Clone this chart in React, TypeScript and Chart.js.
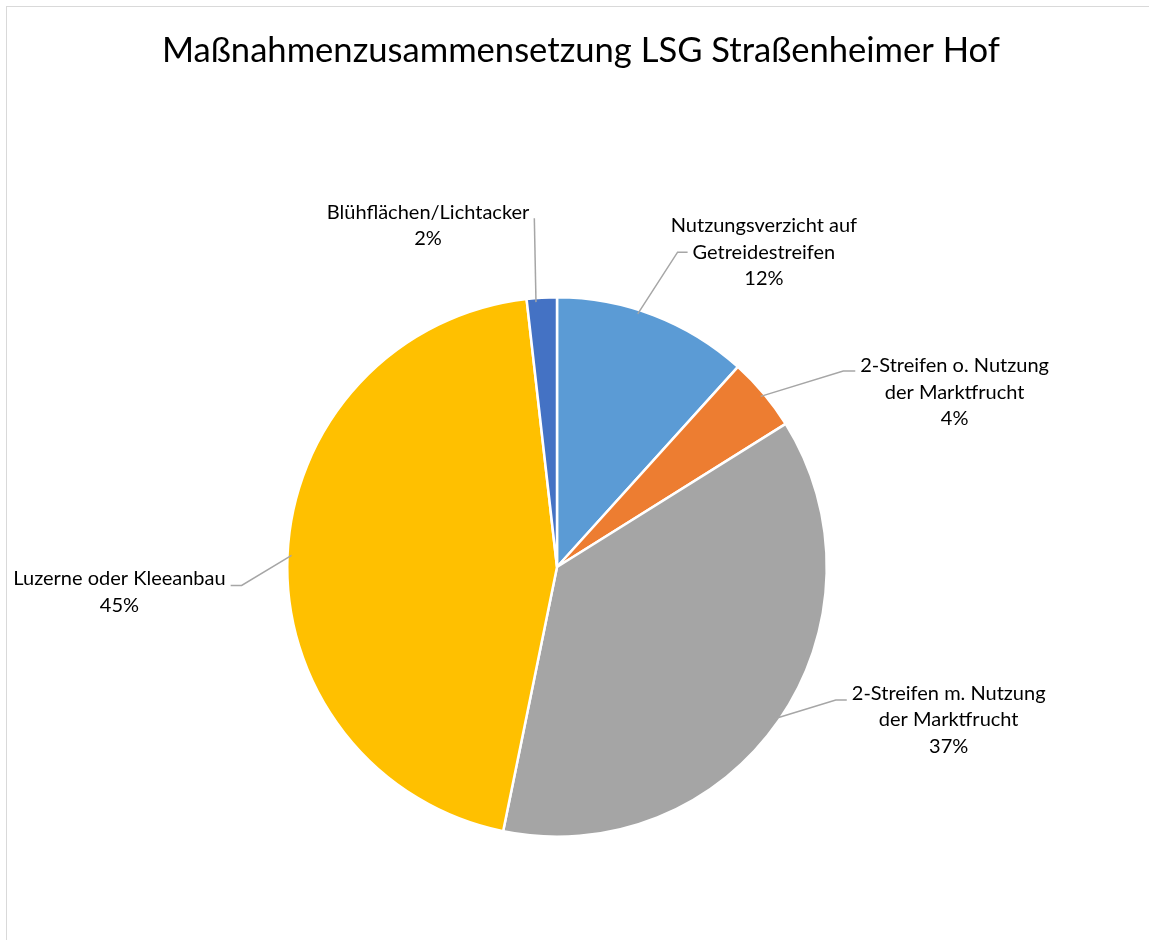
import React, { useEffect, useRef } from "react";
import { Chart, registerables } from "chart.js";

Chart.register(...registerables);

// ---------- data ----------
const chartTitle = "Maßnahmenzusammensetzung LSG Straßenheimer Hof";
const categories = [
  "Nutzungsverzicht auf Getreidestreifen",
  "2-Streifen o. Nutzung der Marktfrucht",
  "2-Streifen m. Nutzung der Marktfrucht",
  "Luzerne oder Kleeanbau",
  "Blühflächen/Lichtacker",
];
const labelLines = [
  ["Nutzungsverzicht auf", "Getreidestreifen"],
  ["2-Streifen o. Nutzung", "der Marktfrucht"],
  ["2-Streifen m. Nutzung", "der Marktfrucht"],
  ["Luzerne oder Kleeanbau"],
  ["Blühflächen/Lichtacker"],
];
const shares = [11.7, 4.4, 37.1, 45.0, 1.8];
const sliceColors = ["#5B9BD5", "#ED7D31", "#A5A5A5", "#FFC000", "#4472C4"];

// ---------- label layout (relative to pie centre, in radius units) ----------
const labelLayout = [
  { dx: 0.767, dy: -1.167, side: "left", line: 1.0, tail: 10, anchor: 0.42 },
  { dx: 1.474, dy: -0.648, side: "left", line: 0.2, tail: 12, anchor: 0.5 },
  { dx: 1.452, dy: 0.567, side: "left", line: 0.25, tail: 11, anchor: 0.5 },
  { dx: -1.622, dy: 0.093, side: "right", line: 0.25, tail: 11, anchor: 0.5 },
  { dx: -0.478, dy: -1.265, side: "right", line: 0.22, tail: 0, anchor: 0.3 },
];

const FONT = "Lato, 'Open Sans', sans-serif";
const LABEL_SIZE = 20;
const LINE_H = 26.5;

const titlePlugin = {
  id: "customTitle",
  afterDraw(chart: any) {
    const ctx = chart.ctx;
    ctx.save();
    ctx.font = `34.6px ${FONT}`;
    ctx.fillStyle = "#000000";
    ctx.textAlign = "center";
    ctx.textBaseline = "middle";
    ctx.fillText(chartTitle, 581, 51);
    ctx.restore();
  },
};

const labelPlugin = {
  id: "pieLabels",
  afterDatasetsDraw(chart: any) {
    const ctx = chart.ctx;
    const meta = chart.getDatasetMeta(0);
    const data = chart.data.datasets[0].data as number[];
    const total = data.reduce((a, b) => a + b, 0);
    ctx.save();
    ctx.font = `${LABEL_SIZE}px ${FONT}`;
    meta.data.forEach((arc: any, i: number) => {
      const p = arc.getProps(["x", "y", "outerRadius", "startAngle", "endAngle"], true);
      const lay = labelLayout[i];
      const ang = p.startAngle + (p.endAngle - p.startAngle) * lay.anchor;
      const ax = p.x + Math.cos(ang) * p.outerRadius * 0.985;
      const ay = p.y + Math.sin(ang) * p.outerRadius * 0.985;
      const pct = Math.round((data[i] / total) * 100) + "%";
      const lines = [...labelLines[i], pct];
      const cx = p.x + lay.dx * p.outerRadius;
      const cy = p.y + lay.dy * p.outerRadius;
      const top = cy - ((lines.length - 1) * LINE_H) / 2;

      // leader line
      const li = Math.floor(lay.line);
      const w = ctx.measureText(lines[li]).width;
      const ly = top + lay.line * LINE_H;
      const ex = lay.side === "left" ? cx - w / 2 - 5 : cx + w / 2 + 5;
      const bx = lay.side === "left" ? ex - lay.tail : ex + lay.tail;
      ctx.strokeStyle = "#A6A6A6";
      ctx.lineWidth = 1.5;
      ctx.beginPath();
      ctx.moveTo(ax, ay);
      ctx.lineTo(bx, ly);
      ctx.lineTo(ex, ly);
      ctx.stroke();

      ctx.fillStyle = "#000000";
      ctx.textAlign = "center";
      ctx.textBaseline = "middle";
      lines.forEach((t, k) => ctx.fillText(t, cx, top + k * LINE_H));
    });
    ctx.restore();
  },
};

export default function App() {
  const ref = useRef<HTMLCanvasElement | null>(null);
  useEffect(() => {
    if (!ref.current) return;
    const chart = new Chart(ref.current, {
      type: "pie",
      data: {
        labels: categories,
        datasets: [
          {
            data: shares,
            backgroundColor: sliceColors,
            borderColor: "#FFFFFF",
            borderWidth: 2.5,
          },
        ],
      },
      options: {
        animation: false,
        responsive: false,
        maintainAspectRatio: false,
        layout: { padding: { top: 296, bottom: 102, left: 286, right: 321 } },
        plugins: {
          legend: { display: false },
          title: { display: false },
          tooltip: { enabled: false },
        },
      },
      plugins: [labelPlugin, titlePlugin],
    });
    return () => chart.destroy();
  }, []);

  return (
    <div style={{ position: "fixed", left: 0, top: 0, width: 1149, height: 940, background: "#fff", overflow: "hidden" }}>
      <div
        style={{
          position: "absolute",
          left: 6,
          top: 6,
          width: 1200,
          height: 1000,
          border: "1.5px solid #D9D9D9",
          boxSizing: "border-box",
        }}
      />
      <canvas ref={ref} width={1149} height={940} style={{ position: "absolute", left: 0, top: 0, width: 1149, height: 940 }} />
    </div>
  );
}
